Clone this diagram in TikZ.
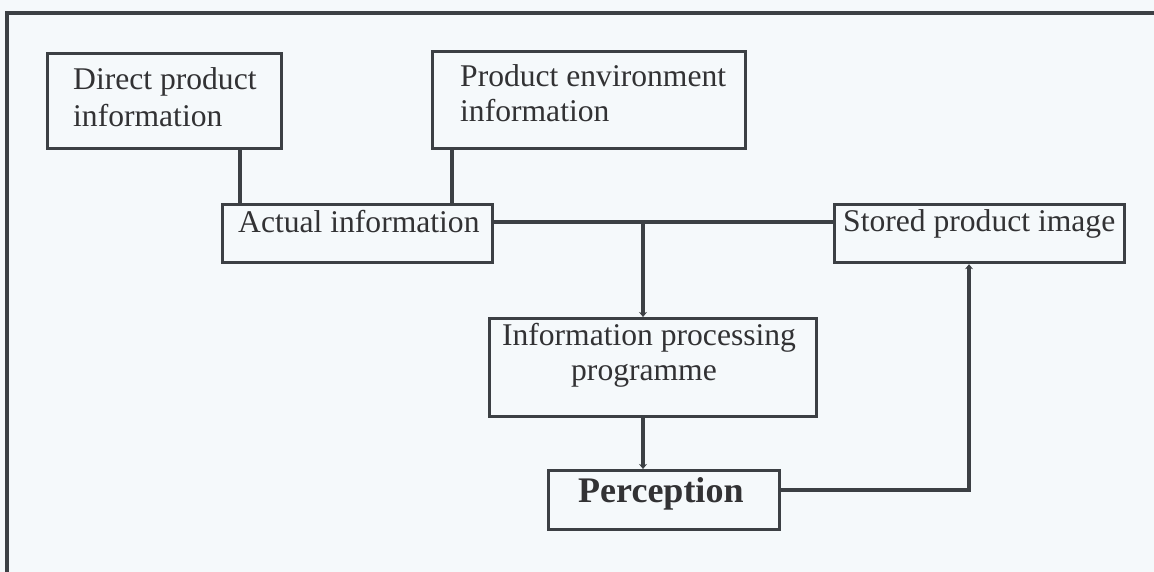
\documentclass[tikz,border=0pt]{standalone}
\usepackage{fontspec}
\setmainfont{Liberation Serif}
\usetikzlibrary{arrows.meta}
\definecolor{ink}{RGB}{60,64,68}
\definecolor{txtc}{RGB}{50,50,52}
\definecolor{paper}{RGB}{245,249,251}
\tikzset{
  x=1pt, y=-1pt,
  box/.style={draw=ink, line width=3.2pt, fill=paper, inner sep=0pt, anchor=north west},
  txt/.style={text=txtc, inner sep=0pt, font=\fontsize{31.6}{37}\selectfont},
  link/.style={draw=ink, line width=3.2pt},
  tip/.style={-{Stealth[length=5pt,width=8pt]}}
}
\begin{document}
\begin{tikzpicture}
  % page and outer frame
  \fill[paper] (0,0) rectangle (1154,572);
  \useasboundingbox (0,0) rectangle (1154,572);
  \draw[ink, line width=3.2pt] (7,572) -- (7,13) -- (1154,13);

  % boxes
  \node[box, minimum width=234pt, minimum height=95pt] (direct) at (46,52) {};
  \node[box, minimum width=313pt, minimum height=97pt] (env) at (431,50) {};
  \node[box, minimum width=270pt, minimum height=58pt] (actual) at (221,203) {};
  \node[box, minimum width=290pt, minimum height=58pt] (stored) at (833,203) {};
  \node[box, minimum width=327pt, minimum height=98pt] (proc) at (488,317) {};
  \node[box, minimum width=231pt, minimum height=59pt] (perc) at (547,469) {};

  % box texts
  \node[txt, anchor=base west] (directA) at (73,90) {Direct product};
  \node[txt, anchor=base west] (directB) at (73,127) {information};
  \node[txt, anchor=base west] (envA) at (460,87) {Product environment};
  \node[txt, anchor=base west] (envB) at (460,122) {information};
  \node[txt, anchor=base west] (actualT) at (238,233) {Actual information};
  \node[txt, anchor=base west] (storedT) at (843,232) {Stored product image};
  \node[txt, anchor=base] (procA) at (649,345) {Information processing};
  \node[txt, anchor=base] (procB) at (644,380) {programme};
  \node[txt, anchor=base west, font=\fontsize{36}{40}\selectfont\bfseries] (percT) at (578,502) {Perception};

  % connectors
  \coordinate (j1) at (643,222);
  \coordinate (j2) at (969,490);
  \draw[link] (direct.south west -| 240,0) -- (actual.north west -| 240,0);
  \draw[link] (env.south west -| 452,0) -- (actual.north west -| 452,0);
  \draw[link] (actual.east |- j1) -- (stored.west |- j1);
  \draw[link, tip] (j1) -- (proc.north west -| j1);
  \draw[link, tip] (proc.south west -| j1) -- (perc.north west -| j1);
  \draw[link, tip] (perc.east |- j2) -- (j2) -- (stored.south west -| j2);
\end{tikzpicture}
\end{document}
